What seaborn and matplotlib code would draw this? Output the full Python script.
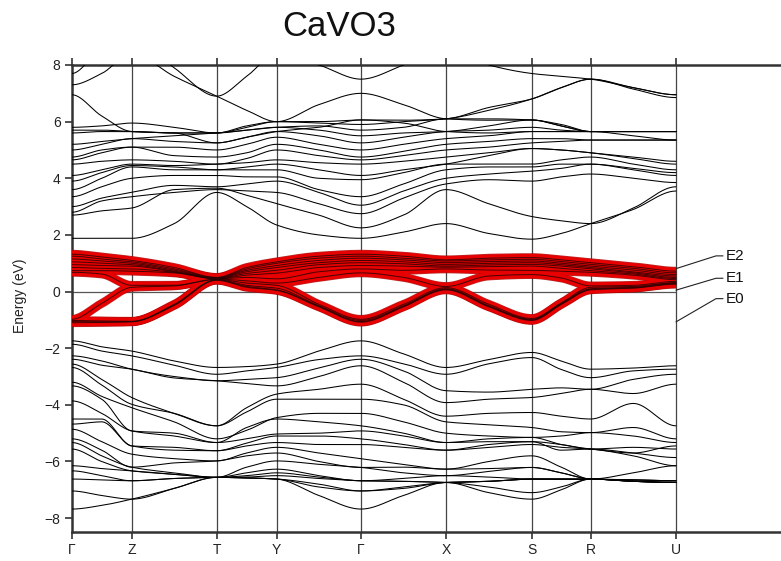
import numpy as np
import pandas as pd
import matplotlib
matplotlib.use("Agg")
import matplotlib.pyplot as plt
import seaborn as sns

# High-symmetry path: labels and cumulative path length
kpath_labels = ["Γ", "Z", "T", "Y", "Γ", "X", "S", "R", "U"]
kpath_dist = [0.0, 60.0, 145.0, 205.0, 289.3, 374.3, 460.0, 519.0, 604.3]

# Band energies (eV) sampled at every high-symmetry point and at the middle
# of each segment: Γ, ΓZ, Z, ZT, T, TY, Y, YΓ, Γ, ΓX, X, XS, S, SR, R, RU, U
conduction_bands = [
    [1.88, 1.88, 1.88, 2.40, 3.50, 3.00, 2.35, 2.00, 1.88, 2.10, 2.40, 2.05, 1.85, 2.05, 2.40, 2.90, 3.55],
    [2.70, 2.85, 2.95, 3.60, 3.65, 3.40, 3.10, 2.70, 2.25, 2.70, 3.60, 3.10, 2.65, 2.50, 2.40, 2.95, 3.70],
    [2.80, 3.20, 3.35, 3.50, 3.60, 3.55, 3.50, 3.10, 2.75, 3.30, 3.80, 3.95, 3.90, 4.05, 4.15, 4.00, 3.85],
    [3.00, 3.30, 3.50, 3.75, 3.70, 3.80, 3.90, 3.50, 3.05, 3.55, 4.00, 4.15, 4.25, 4.35, 4.50, 4.30, 4.10],
    [3.35, 3.70, 4.00, 4.10, 4.10, 4.05, 4.05, 3.60, 3.35, 3.80, 4.30, 4.40, 4.40, 4.50, 4.50, 4.35, 4.20],
    [3.60, 4.00, 4.40, 4.30, 4.30, 4.30, 4.30, 4.00, 3.95, 4.20, 4.50, 4.50, 4.50, 4.65, 4.75, 4.50, 4.30],
    [3.90, 4.20, 4.45, 4.40, 4.30, 4.40, 4.50, 4.30, 4.10, 4.30, 4.50, 4.80, 5.05, 5.00, 4.90, 4.70, 4.50],
    [4.10, 4.30, 4.50, 4.45, 4.50, 4.55, 4.65, 4.55, 4.50, 4.60, 4.75, 4.90, 5.05, 5.00, 4.90, 4.75, 4.60],
    [4.50, 4.60, 4.65, 4.60, 4.50, 4.70, 5.00, 4.80, 4.65, 4.80, 5.00, 5.10, 5.25, 5.30, 5.35, 5.35, 5.35],
    [4.65, 4.90, 5.10, 4.80, 4.75, 4.90, 5.20, 5.00, 4.75, 4.95, 5.20, 5.30, 5.40, 5.40, 5.35, 5.35, 5.35],
    [4.75, 5.00, 5.10, 5.10, 5.00, 5.20, 5.45, 5.20, 5.00, 5.20, 5.40, 5.50, 5.65, 5.65, 5.65, 5.65, 5.65],
    [5.00, 5.20, 5.40, 5.30, 5.25, 5.45, 5.65, 5.50, 5.25, 5.45, 5.65, 5.70, 5.80, 5.70, 5.65, 5.65, 5.65],
    [5.20, 5.30, 5.40, 5.50, 5.60, 5.70, 5.80, 5.70, 5.50, 5.60, 5.65, 5.85, 6.06, 5.85, 5.65, 5.65, 5.65],
    [5.60, 5.65, 5.65, 5.60, 5.60, 5.70, 5.80, 5.85, 5.70, 5.80, 6.10, 6.10, 6.06, 5.90, 5.65, 5.65, 5.65],
    [5.70, 5.70, 5.65, 5.60, 5.60, 5.80, 6.00, 5.95, 5.90, 6.00, 6.10, 6.40, 6.80, 7.20, 7.50, 7.15, 6.85],
    [5.80, 5.85, 5.95, 5.80, 5.60, 5.85, 6.00, 6.00, 6.06, 5.95, 5.65, 5.60, 5.65, 5.65, 5.65, 5.50, 5.35],
    [6.95, 6.20, 5.65, 5.60, 5.25, 5.45, 5.65, 5.80, 6.06, 6.05, 6.10, 6.50, 6.80, 7.20, 7.50, 7.20, 6.95],
    [7.30, 7.70, 8.40, 7.60, 6.90, 6.40, 6.00, 6.60, 7.00, 6.60, 6.10, 6.05, 6.06, 5.85, 5.65, 5.65, 5.65],
    [7.70, 8.60, 9.00, 7.90, 6.90, 7.60, 8.40, 8.00, 7.50, 8.00, 8.60, 8.00, 7.70, 7.60, 7.50, 7.20, 6.95],
]

valence_bands = [
    [-1.74, -1.95, -2.10, -2.45, -2.68, -2.65, -2.56, -2.10, -1.74, -2.20, -2.68, -2.40, -2.15, -2.45, -2.74, -2.70, -2.62],
    [-1.86, -2.10, -2.27, -2.60, -2.92, -2.80, -2.68, -2.40, -2.27, -2.55, -2.92, -2.55, -2.33, -2.75, -3.04, -2.80, -2.74],
    [-2.27, -2.45, -2.74, -3.00, -3.15, -3.10, -3.04, -2.70, -2.39, -2.80, -3.50, -3.55, -3.45, -3.40, -3.45, -3.10, -2.92],
    [-2.39, -2.60, -2.74, -3.05, -3.15, -3.25, -3.33, -3.00, -2.62, -3.20, -3.92, -3.80, -3.74, -3.60, -3.45, -3.60, -3.27],
    [-2.56, -3.10, -3.74, -4.30, -4.74, -4.10, -3.62, -3.45, -3.27, -3.80, -4.40, -4.30, -4.27, -4.40, -4.50, -3.95, -4.74],
    [-2.68, -3.30, -3.98, -4.30, -4.74, -4.25, -3.80, -3.80, -3.80, -4.00, -4.60, -4.70, -4.80, -4.95, -4.98, -4.80, -5.20],
    [-3.20, -3.70, -4.10, -4.60, -5.20, -4.90, -4.45, -4.30, -4.30, -4.60, -5.00, -5.10, -5.15, -5.10, -4.98, -5.10, -5.33],
    [-3.33, -3.80, -4.92, -5.00, -5.33, -4.80, -4.50, -4.60, -4.74, -5.00, -5.33, -5.20, -5.15, -5.40, -5.56, -5.70, -5.45],
    [-3.86, -4.30, -4.92, -5.10, -5.33, -5.20, -5.03, -5.00, -4.92, -5.10, -5.33, -5.30, -5.30, -5.40, -5.56, -5.50, -5.56],
    [-4.50, -4.50, -5.45, -5.50, -5.62, -5.35, -5.10, -5.10, -5.20, -5.40, -5.60, -5.40, -5.30, -5.60, -5.56, -5.70, -5.86],
    [-4.68, -4.60, -5.45, -5.60, -5.62, -5.45, -5.33, -5.40, -5.40, -5.50, -5.60, -5.50, -5.40, -5.50, -5.56, -5.80, -6.15],
    [-4.86, -5.30, -5.74, -5.90, -5.98, -5.70, -5.50, -5.70, -5.90, -6.10, -6.27, -6.00, -5.80, -6.20, -6.62, -6.40, -6.15],
    [-5.20, -5.60, -6.20, -6.05, -5.98, -5.80, -5.70, -6.00, -6.21, -6.20, -6.27, -6.25, -6.21, -6.40, -6.62, -6.65, -6.68],
    [-5.33, -5.80, -6.20, -6.40, -6.56, -6.20, -5.98, -6.10, -6.21, -6.40, -6.50, -6.35, -6.21, -6.40, -6.62, -6.65, -6.68],
    [-5.56, -6.00, -6.33, -6.45, -6.56, -6.40, -6.27, -6.50, -6.68, -6.60, -6.50, -6.55, -6.62, -6.62, -6.62, -6.70, -6.74],
    [-6.15, -6.25, -6.33, -6.45, -6.56, -6.50, -6.40, -6.55, -6.68, -6.70, -6.74, -6.70, -6.62, -6.62, -6.62, -6.70, -6.74],
    [-6.33, -6.50, -6.68, -6.60, -6.56, -6.55, -6.50, -6.60, -6.68, -6.70, -6.74, -6.90, -7.10, -6.90, -6.62, -6.65, -6.68],
    [-6.62, -6.65, -6.68, -6.60, -6.56, -6.58, -6.62, -6.80, -7.04, -6.90, -6.74, -6.70, -6.62, -6.62, -6.62, -6.70, -6.74],
    [-7.04, -7.20, -7.33, -6.95, -6.56, -6.58, -6.62, -6.90, -7.04, -6.95, -6.74, -6.70, -6.62, -6.62, -6.62, -6.70, -6.74],
    [-7.68, -7.55, -7.33, -6.95, -6.56, -6.58, -6.62, -7.20, -7.68, -7.20, -6.74, -7.10, -7.33, -7.00, -6.62, -6.70, -6.74],
]

# V t2g manifold around the Fermi level (fat bands)
t2g_bands = [
    [1.32, 1.22, 1.10, 0.85, 0.50, 0.85, 1.05, 1.25, 1.32, 1.25, 1.12, 1.18, 1.20, 1.12, 1.02, 0.88, 0.72],
    [1.25, 1.15, 1.05, 0.80, 0.49, 0.80, 1.00, 1.18, 1.25, 1.18, 1.08, 1.12, 1.14, 1.06, 0.96, 0.82, 0.66],
    [1.15, 1.08, 1.00, 0.76, 0.48, 0.75, 0.92, 1.10, 1.18, 1.12, 1.02, 1.06, 1.08, 1.00, 0.90, 0.76, 0.60],
    [1.05, 1.00, 0.95, 0.72, 0.47, 0.70, 0.85, 1.02, 1.10, 1.05, 0.96, 1.00, 1.02, 0.95, 0.85, 0.70, 0.55],
    [0.95, 0.92, 0.90, 0.70, 0.46, 0.64, 0.75, 0.95, 1.02, 0.98, 0.90, 0.94, 0.96, 0.90, 0.80, 0.66, 0.50],
    [0.85, 0.82, 0.80, 0.68, 0.45, 0.58, 0.65, 0.85, 0.92, 0.90, 0.86, 0.88, 0.90, 0.82, 0.74, 0.62, 0.46],
    [0.74, 0.74, 0.72, 0.66, 0.45, 0.50, 0.45, 0.70, 0.80, 0.75, 0.80, 0.76, 0.75, 0.72, 0.68, 0.58, 0.42],
    [0.68, 0.62, 0.22, 0.22, 0.44, 0.38, 0.30, 0.50, 0.66, 0.50, 0.18, 0.55, 0.60, 0.48, 0.20, 0.22, 0.36],
    [-0.98, -0.42, 0.15, 0.20, 0.43, 0.30, 0.22, -0.45, -0.98, -0.45, 0.14, -0.45, -0.95, -0.40, 0.15, 0.18, 0.32],
    [-1.02, -1.04, -1.05, -0.45, 0.42, 0.22, 0.12, -0.50, -1.02, -0.50, 0.10, -0.50, -0.98, -0.42, 0.10, 0.15, 0.30],
    [-1.06, -1.07, -1.06, -0.47, 0.41, 0.18, 0.06, -0.52, -1.06, -0.52, 0.08, -0.52, -1.00, -0.44, 0.08, 0.13, 0.28],
    [-1.10, -1.09, -1.07, -0.49, 0.40, 0.15, 0.04, -0.54, -1.08, -0.54, 0.06, -0.54, -1.02, -0.46, 0.06, 0.12, 0.26],
]

# Energy markers at the end of the path
level_names = ["E2", "E1", "E0"]
level_energies = [0.81, 0.05, -1.07]
level_label_energies = [1.26, 0.47, -0.25]


def sample_positions(nodes):
    pos = []
    for a, b in zip(nodes[:-1], nodes[1:]):
        pos += [a, 0.5 * (a + b)]
    pos.append(nodes[-1])
    return np.array(pos)


def pchip(x, y, xq):
    """Shape-preserving piecewise cubic through the sampled energies."""
    x = np.asarray(x, float)
    y = np.asarray(y, float)
    h = np.diff(x)
    d = np.diff(y) / h
    m = np.zeros_like(y)
    for i in range(1, len(y) - 1):
        if d[i - 1] * d[i] > 0:
            w1 = 2 * h[i] + h[i - 1]
            w2 = h[i] + 2 * h[i - 1]
            m[i] = (w1 + w2) / (w1 / d[i - 1] + w2 / d[i])
    idx = np.clip(np.searchsorted(x, xq, side="right") - 1, 0, len(x) - 2)
    t = (xq - x[idx]) / h[idx]
    h00 = 2 * t**3 - 3 * t**2 + 1
    h10 = t**3 - 2 * t**2 + t
    h01 = -2 * t**3 + 3 * t**2
    h11 = t**3 - t**2
    return (h00 * y[idx] + h10 * h[idx] * m[idx]
            + h01 * y[idx + 1] + h11 * h[idx] * m[idx + 1])


def band_frame(bands, prefix):
    ks = sample_positions(kpath_dist)
    kq = np.linspace(kpath_dist[0], kpath_dist[-1], 1200)
    rows = []
    for i, energies in enumerate(bands):
        rows.append(pd.DataFrame({"k": kq, "E": pchip(ks, energies, kq),
                                  "band": f"{prefix}{i}"}))
    return pd.concat(rows, ignore_index=True)


black_df = band_frame(conduction_bands + valence_bands, "b")
red_df = band_frame(t2g_bands, "t")

sns.set_theme(style="ticks")
plt.rcParams["font.family"] = ["Liberation Sans", "DejaVu Sans"]

W, H = 781, 561
fig = plt.figure(figsize=(W / 100, H / 100), dpi=100)
x0, x1, ytop, ybot = 71.7, 781.0, 65.0, 532.3
ax = fig.add_axes([x0 / W, (H - ybot) / H, (x1 - x0) / W, (ybot - ytop) / H])
ax.set_xlim(0, x1 - x0)
ax.set_ylim(-8.5, 8.0)

for k in kpath_dist[1:]:
    ax.axvline(k, color="#444444", lw=0.9, zorder=1)
ax.plot([kpath_dist[0], kpath_dist[-1]], [0, 0], color="#555555", lw=0.9, zorder=1)

sns.lineplot(data=black_df, x="k", y="E", units="band", estimator=None,
             sort=False, color="black", lw=0.75, ax=ax, legend=False, zorder=3)
# fat bands: soft dark-red rim, red body, thin dark centre line
sns.lineplot(data=red_df, x="k", y="E", units="band", estimator=None,
             sort=False, color="#b00000", lw=6.3, alpha=0.85, ax=ax,
             legend=False, zorder=4, solid_capstyle="butt")
sns.lineplot(data=red_df, x="k", y="E", units="band", estimator=None,
             sort=False, color="#e80000", lw=5.2, ax=ax, legend=False,
             zorder=5, solid_capstyle="butt")
sns.lineplot(data=red_df, x="k", y="E", units="band", estimator=None,
             sort=False, color="#2a0000", lw=0.7, alpha=0.85, ax=ax,
             legend=False, zorder=6)

# Leader lines and labels for the energy markers
ku = kpath_dist[-1]
for name, e, el in zip(level_names, level_energies, level_label_energies):
    ax.plot([ku, ku + 40, ku + 47], [e, el, el], color="#222222", lw=0.8,
            clip_on=False, zorder=7)
    ax.text(ku + 50, el, name, ha="left", va="center", fontsize=11, color="#111111")

ax.set_xticks(kpath_dist, kpath_labels)
ax.set_yticks(np.arange(-8, 9, 2))
ax.set_xlabel("")
ax.set_ylabel("")
ax.tick_params(axis="both", direction="out", length=5, width=1.2,
               colors="#333333", labelcolor="#222222", labelsize=10, pad=3)
ax.tick_params(axis="x", top=True, labeltop=False)
for side in ["left", "top", "bottom"]:
    ax.spines[side].set_linewidth(1.8)
    ax.spines[side].set_color("#333333")
ax.spines["right"].set_visible(False)

fig.text(339 / W, 1 - 27 / H, "CaVO3", ha="center", va="center", fontsize=25, color="#111111")
fig.text(20 / W, 1 - 296 / H, "Energy (eV)", ha="center", va="center",
         rotation=90, fontsize=10, color="#222222")

fig.savefig("out.png", dpi=100)
